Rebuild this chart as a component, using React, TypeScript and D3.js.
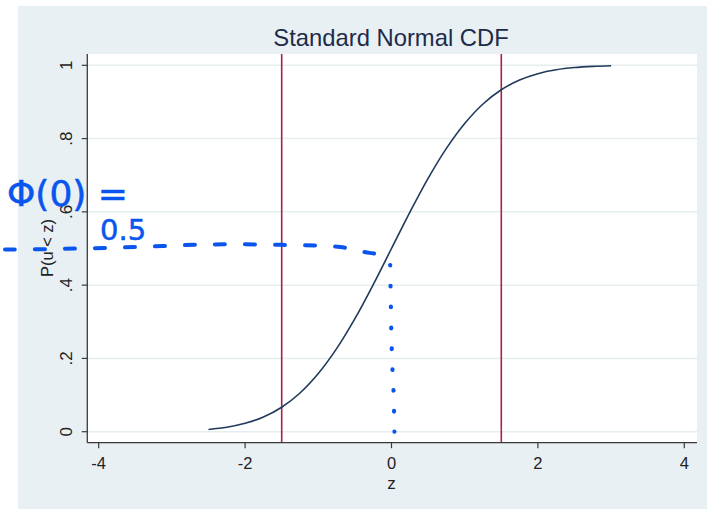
import React from "react";
import * as d3 from "d3";

// Standard normal CDF curve
const zValues = [-2.5, -2.25, -2.0, -1.75, -1.5, -1.25, -1.0, -0.75, -0.5, -0.25, 0, 0.25, 0.5, 0.75, 1.0, 1.25, 1.5, 1.75, 2.0, 2.25, 2.5, 2.75, 3.0];
const pValues = [0.0062, 0.0122, 0.0228, 0.0401, 0.0668, 0.1056, 0.1587, 0.2266, 0.3085, 0.4013, 0.5, 0.5987, 0.6915, 0.7734, 0.8413, 0.8944, 0.9332, 0.9599, 0.9772, 0.9878, 0.9938, 0.997, 0.9987];

// vertical reference lines
const refLines = [-1.5, 1.5];

// axis ticks
const xTicks = [-4, -2, 0, 2, 4];
const yTicks = [0, 0.2, 0.4, 0.6, 0.8, 1];
const yTickLabels = ["0", ".2", ".4", ".6", ".8", "1"];

// hand-drawn annotation (in data coordinates)
const annoDashZ = [-5.28, -4.5, -3.5, -2.5, -1.5, -0.7, -0.3, 0.0];
const annoDashP = [0.497, 0.499, 0.504, 0.511, 0.51, 0.504, 0.488, 0.482];
const annoDotZ = [-0.018, -0.01, 0.0, 0.015, 0.027, 0.04];
const annoDotP = [0.455, 0.36, 0.25, 0.16, 0.114, 0.0];

const title = "Standard Normal CDF";
const xTitle = "z";
const yTitle = "P(u < z)";
const annoLine1 = "Φ(0) =";
const annoLine2 = "0.5";

export default function App() {
  const W = 707;
  const H = 509;
  const plot = { left: 87.3, top: 54, right: 697, bottom: 442.7 };
  const x = d3.scaleLinear().domain([-4, 4]).range([98.7, 684.3]);
  const y = d3.scaleLinear().domain([0, 1]).range([431.7, 65.3]);

  const curve = d3
    .line<number>()
    .x((_, i) => x(zValues[i]))
    .y((_, i) => y(pValues[i]))
    .curve(d3.curveCatmullRom)(pValues);

  const dash = d3
    .line<number>()
    .x((_, i) => x(annoDashZ[i]))
    .y((_, i) => y(annoDashP[i]))
    .curve(d3.curveCatmullRom)(annoDashP);

  const dots = d3
    .line<number>()
    .x((_, i) => x(annoDotZ[i]))
    .y((_, i) => y(annoDotP[i]))
    .curve(d3.curveCatmullRom)(annoDotP);

  const font = "'Liberation Sans', Arial, sans-serif";
  const blue = "#0a55ee";

  return (
    <svg width={W} height={H} style={{ position: "absolute", left: 0, top: 0 }} fontFamily={font}>
      <rect x={0} y={0} width={W} height={H} fill="#ffffff" />
      <rect x={18} y={6} width={W - 18} height={H - 6} fill="#e9f0f3" />
      <rect x={plot.left} y={plot.top} width={plot.right - plot.left} height={plot.bottom - plot.top} fill="#ffffff" />

      {/* grid */}
      {yTicks.map((t) => (
        <line key={"g" + t} x1={plot.left} x2={plot.right} y1={y(t)} y2={y(t)} stroke="#e6edf0" strokeWidth={1.5} />
      ))}

      {/* reference lines */}
      {refLines.map((r) => (
        <line key={"r" + r} x1={x(r)} x2={x(r)} y1={plot.top} y2={plot.bottom} stroke="#a52343" strokeWidth={1.6} />
      ))}

      {/* curve */}
      <path d={curve || ""} fill="none" stroke="#1f3a5a" strokeWidth={1.6} />

      {/* axes */}
      <line x1={plot.left} x2={plot.left} y1={plot.top} y2={plot.bottom} stroke="#3a3a3a" strokeWidth={1.3} />
      <line x1={plot.left} x2={plot.right} y1={plot.bottom} y2={plot.bottom} stroke="#3a3a3a" strokeWidth={1.3} />
      {yTicks.map((t, i) => (
        <g key={"y" + t}>
          <line x1={plot.left - 5.5} x2={plot.left} y1={y(t)} y2={y(t)} stroke="#3a3a3a" strokeWidth={1.2} />
          <text
            transform={`translate(72,${y(t)}) rotate(-90)`}
            textAnchor="middle"
            fontSize={17}
            fill="#222"
          >
            {yTickLabels[i]}
          </text>
        </g>
      ))}
      {xTicks.map((t) => (
        <g key={"x" + t}>
          <line x1={x(t)} x2={x(t)} y1={plot.bottom} y2={plot.bottom + 5.5} stroke="#3a3a3a" strokeWidth={1.2} />
          <text x={x(t)} y={468.5} textAnchor="middle" fontSize={16.5} fill="#222">
            {t < 0 ? "-" + Math.abs(t) : String(t)}
          </text>
        </g>
      ))}
      <text x={x(0)} y={488.5} textAnchor="middle" fontSize={17} fill="#222">
        {xTitle}
      </text>
      <text transform={`translate(53,248) rotate(-90)`} textAnchor="middle" fontSize={16.5} fill="#222">
        {yTitle}
      </text>

      {/* title */}
      <text x={391} y={46} textAnchor="middle" fontSize={23.8} fill="#1d2b4a">
        {title}
      </text>

      {/* hand annotation */}
      <path d={dash || ""} fill="none" stroke={blue} strokeWidth={4} strokeLinecap="round" strokeDasharray="10 20" />
      <path d={dots || ""} fill="none" stroke={blue} strokeWidth={4.2} strokeLinecap="round" pathLength={100} strokeDasharray="0.4 12.1" />
      <text x={7} y={206} fontSize={36} fill={blue} fontFamily="'DejaVu Sans', sans-serif" stroke={blue} strokeWidth={0.6}>
        {annoLine1}
      </text>
      <text x={100} y={240} fontSize={29} fill={blue} fontFamily="'DejaVu Sans', sans-serif" stroke={blue} strokeWidth={0.5}>
        {annoLine2}
      </text>
    </svg>
  );
}
